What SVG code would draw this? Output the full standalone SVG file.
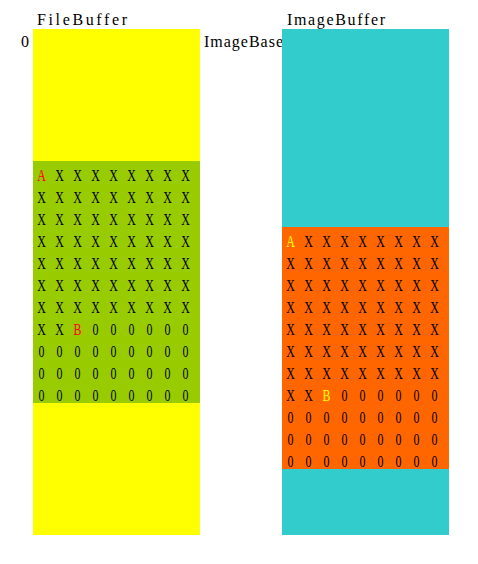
<svg xmlns="http://www.w3.org/2000/svg" width="478" height="564" viewBox="0 0 478 564">
<style>
text{font-family:"Liberation Serif","DejaVu Serif",serif;font-size:16px;fill:#000}
.g text{font-size:17px;text-anchor:middle}
.red{fill:#FF0000}
.yel{fill:#FFFF00}
</style>
<rect width="478" height="564" fill="#fff"/>
<g id="labels">
<text x="37" y="25" textLength="90" lengthAdjust="spacing">FileBuffer</text>
<text x="287" y="25" textLength="98" lengthAdjust="spacing">ImageBuffer</text>
<text x="21" y="47">0</text>
<text x="204" y="47" textLength="79" lengthAdjust="spacing">ImageBase</text>
</g>
<g id="filebuffer">
<rect x="33" y="29" width="167" height="506" fill="#FFFF00"/>
<rect x="33" y="161" width="167" height="242" fill="#99CC00"/>
<g class="g" transform="scale(0.7,1)">
<text y="181"><tspan x="59.29" class="red">A</tspan><tspan x="85">X</tspan><tspan x="110.71">X</tspan><tspan x="136.43">X</tspan><tspan x="162.14">X</tspan><tspan x="187.86">X</tspan><tspan x="213.57">X</tspan><tspan x="239.29">X</tspan><tspan x="265">X</tspan></text>
<text y="203"><tspan x="59.29">X</tspan><tspan x="85">X</tspan><tspan x="110.71">X</tspan><tspan x="136.43">X</tspan><tspan x="162.14">X</tspan><tspan x="187.86">X</tspan><tspan x="213.57">X</tspan><tspan x="239.29">X</tspan><tspan x="265">X</tspan></text>
<text y="225"><tspan x="59.29">X</tspan><tspan x="85">X</tspan><tspan x="110.71">X</tspan><tspan x="136.43">X</tspan><tspan x="162.14">X</tspan><tspan x="187.86">X</tspan><tspan x="213.57">X</tspan><tspan x="239.29">X</tspan><tspan x="265">X</tspan></text>
<text y="247"><tspan x="59.29">X</tspan><tspan x="85">X</tspan><tspan x="110.71">X</tspan><tspan x="136.43">X</tspan><tspan x="162.14">X</tspan><tspan x="187.86">X</tspan><tspan x="213.57">X</tspan><tspan x="239.29">X</tspan><tspan x="265">X</tspan></text>
<text y="269"><tspan x="59.29">X</tspan><tspan x="85">X</tspan><tspan x="110.71">X</tspan><tspan x="136.43">X</tspan><tspan x="162.14">X</tspan><tspan x="187.86">X</tspan><tspan x="213.57">X</tspan><tspan x="239.29">X</tspan><tspan x="265">X</tspan></text>
<text y="291"><tspan x="59.29">X</tspan><tspan x="85">X</tspan><tspan x="110.71">X</tspan><tspan x="136.43">X</tspan><tspan x="162.14">X</tspan><tspan x="187.86">X</tspan><tspan x="213.57">X</tspan><tspan x="239.29">X</tspan><tspan x="265">X</tspan></text>
<text y="313"><tspan x="59.29">X</tspan><tspan x="85">X</tspan><tspan x="110.71">X</tspan><tspan x="136.43">X</tspan><tspan x="162.14">X</tspan><tspan x="187.86">X</tspan><tspan x="213.57">X</tspan><tspan x="239.29">X</tspan><tspan x="265">X</tspan></text>
<text y="335"><tspan x="59.29">X</tspan><tspan x="85">X</tspan><tspan x="110.71" class="red">B</tspan><tspan x="136.43">0</tspan><tspan x="162.14">0</tspan><tspan x="187.86">0</tspan><tspan x="213.57">0</tspan><tspan x="239.29">0</tspan><tspan x="265">0</tspan></text>
<text y="357"><tspan x="59.29">0</tspan><tspan x="85">0</tspan><tspan x="110.71">0</tspan><tspan x="136.43">0</tspan><tspan x="162.14">0</tspan><tspan x="187.86">0</tspan><tspan x="213.57">0</tspan><tspan x="239.29">0</tspan><tspan x="265">0</tspan></text>
<text y="379"><tspan x="59.29">0</tspan><tspan x="85">0</tspan><tspan x="110.71">0</tspan><tspan x="136.43">0</tspan><tspan x="162.14">0</tspan><tspan x="187.86">0</tspan><tspan x="213.57">0</tspan><tspan x="239.29">0</tspan><tspan x="265">0</tspan></text>
<text y="401"><tspan x="59.29">0</tspan><tspan x="85">0</tspan><tspan x="110.71">0</tspan><tspan x="136.43">0</tspan><tspan x="162.14">0</tspan><tspan x="187.86">0</tspan><tspan x="213.57">0</tspan><tspan x="239.29">0</tspan><tspan x="265">0</tspan></text>
</g>
</g>
<g id="imagebuffer">
<rect x="282" y="29" width="167" height="506" fill="#33CCCC"/>
<rect x="282" y="227" width="167" height="242" fill="#FF6600"/>
<g class="g" transform="scale(0.7,1)">
<text y="247"><tspan x="415" class="yel">A</tspan><tspan x="440.71">X</tspan><tspan x="466.43">X</tspan><tspan x="492.14">X</tspan><tspan x="517.86">X</tspan><tspan x="543.57">X</tspan><tspan x="569.29">X</tspan><tspan x="595">X</tspan><tspan x="620.71">X</tspan></text>
<text y="269"><tspan x="415">X</tspan><tspan x="440.71">X</tspan><tspan x="466.43">X</tspan><tspan x="492.14">X</tspan><tspan x="517.86">X</tspan><tspan x="543.57">X</tspan><tspan x="569.29">X</tspan><tspan x="595">X</tspan><tspan x="620.71">X</tspan></text>
<text y="291"><tspan x="415">X</tspan><tspan x="440.71">X</tspan><tspan x="466.43">X</tspan><tspan x="492.14">X</tspan><tspan x="517.86">X</tspan><tspan x="543.57">X</tspan><tspan x="569.29">X</tspan><tspan x="595">X</tspan><tspan x="620.71">X</tspan></text>
<text y="313"><tspan x="415">X</tspan><tspan x="440.71">X</tspan><tspan x="466.43">X</tspan><tspan x="492.14">X</tspan><tspan x="517.86">X</tspan><tspan x="543.57">X</tspan><tspan x="569.29">X</tspan><tspan x="595">X</tspan><tspan x="620.71">X</tspan></text>
<text y="335"><tspan x="415">X</tspan><tspan x="440.71">X</tspan><tspan x="466.43">X</tspan><tspan x="492.14">X</tspan><tspan x="517.86">X</tspan><tspan x="543.57">X</tspan><tspan x="569.29">X</tspan><tspan x="595">X</tspan><tspan x="620.71">X</tspan></text>
<text y="357"><tspan x="415">X</tspan><tspan x="440.71">X</tspan><tspan x="466.43">X</tspan><tspan x="492.14">X</tspan><tspan x="517.86">X</tspan><tspan x="543.57">X</tspan><tspan x="569.29">X</tspan><tspan x="595">X</tspan><tspan x="620.71">X</tspan></text>
<text y="379"><tspan x="415">X</tspan><tspan x="440.71">X</tspan><tspan x="466.43">X</tspan><tspan x="492.14">X</tspan><tspan x="517.86">X</tspan><tspan x="543.57">X</tspan><tspan x="569.29">X</tspan><tspan x="595">X</tspan><tspan x="620.71">X</tspan></text>
<text y="401"><tspan x="415">X</tspan><tspan x="440.71">X</tspan><tspan x="466.43" class="yel">B</tspan><tspan x="492.14">0</tspan><tspan x="517.86">0</tspan><tspan x="543.57">0</tspan><tspan x="569.29">0</tspan><tspan x="595">0</tspan><tspan x="620.71">0</tspan></text>
<text y="423"><tspan x="415">0</tspan><tspan x="440.71">0</tspan><tspan x="466.43">0</tspan><tspan x="492.14">0</tspan><tspan x="517.86">0</tspan><tspan x="543.57">0</tspan><tspan x="569.29">0</tspan><tspan x="595">0</tspan><tspan x="620.71">0</tspan></text>
<text y="445"><tspan x="415">0</tspan><tspan x="440.71">0</tspan><tspan x="466.43">0</tspan><tspan x="492.14">0</tspan><tspan x="517.86">0</tspan><tspan x="543.57">0</tspan><tspan x="569.29">0</tspan><tspan x="595">0</tspan><tspan x="620.71">0</tspan></text>
<text y="467"><tspan x="415">0</tspan><tspan x="440.71">0</tspan><tspan x="466.43">0</tspan><tspan x="492.14">0</tspan><tspan x="517.86">0</tspan><tspan x="543.57">0</tspan><tspan x="569.29">0</tspan><tspan x="595">0</tspan><tspan x="620.71">0</tspan></text>
</g>
</g>
<g id="connectors"/>
</svg>
